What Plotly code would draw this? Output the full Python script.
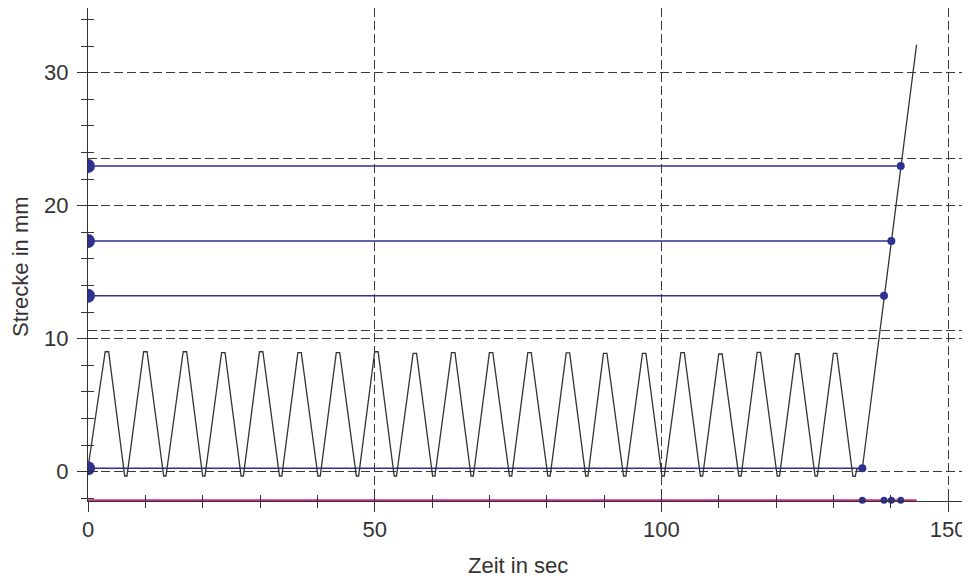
import plotly.graph_objects as go

# ---------------- data ----------------
# zig-zag travel curve (time in s, distance in mm)
start_t = 0.0
start_s = 0.3
peak_t = [3.3, 10.0, 16.9, 23.6, 30.2, 36.9, 43.6, 50.3, 57.0, 63.7,
          70.3, 77.0, 83.7, 90.2, 97.0, 103.7, 110.3, 117.0, 123.7, 130.3]
peak_s = [9.02, 9.02, 9.02, 8.95, 9.02, 8.95, 8.95, 9.02, 8.90, 8.95,
          8.95, 8.95, 8.93, 8.90, 8.90, 8.95, 8.85, 8.97, 8.87, 8.90]
valley_t = [6.6, 13.4, 20.2, 26.9, 33.6, 40.3, 47.0, 53.6, 60.3, 67.0,
            73.7, 80.4, 87.0, 93.6, 100.3, 107.0, 113.7, 120.4, 127.0, 133.6]
valley_s = [-0.32, -0.32, -0.32, -0.32, -0.32, -0.32, -0.32, -0.32, -0.32, -0.32,
            -0.32, -0.32, -0.32, -0.32, -0.32, -0.32, -0.32, -0.32, -0.32, -0.35]
ramp_t = [134.1, 135.05, 144.5]
ramp_s = [0.2, 0.26, 32.1]

# horizontal level lines (blue) and their end times
level_s = [22.98, 17.35, 13.23, 0.26]
level_end_t = [141.74, 140.11, 138.82, 135.05]

# base line (magenta) on the time axis
base_t = [0.0, 144.5]
base_s = [-2.15, -2.15]

x_ticks = [0, 50, 100, 150]
y_ticks = [0, 10, 20, 30]

# ---------------- styles ----------------
TOP_HALF = 0.3     # half width of the flat top of a peak (s)
BOT_HALF = 0.2     # half width of the flat bottom of a valley (s)
BLUE = "#2e3192"
INK = "#333333"
PINK = "#c8307f"
GRID = "#3a3a3a"
DASH = "9px,4px"

# build the zig-zag path from the read vertices
zx = [start_t]
zy = [start_s]
for pt, ps, vt, vs in zip(peak_t, peak_s, valley_t, valley_s):
    zx += [pt - TOP_HALF, pt + TOP_HALF, vt - BOT_HALF, vt + BOT_HALF]
    zy += [ps, ps, vs, vs]
zx += ramp_t
zy += ramp_s

fig = go.Figure()

fig.add_trace(go.Scatter(x=base_t, y=base_s, mode="lines",
                         line=dict(color=PINK, width=2), hoverinfo="skip"))

for s, te in zip(level_s, level_end_t):
    fig.add_trace(go.Scatter(x=[0, te], y=[s, s], mode="lines",
                             line=dict(color=BLUE, width=1.5), hoverinfo="skip"))

fig.add_trace(go.Scatter(x=zx, y=zy, mode="lines",
                         line=dict(color=INK, width=1.3), hoverinfo="skip"))

fig.add_trace(go.Scatter(x=[0] * len(level_s), y=level_s, mode="markers",
                         marker=dict(color=BLUE, size=14), cliponaxis=True,
                         hoverinfo="skip"))
fig.add_trace(go.Scatter(x=level_end_t, y=level_s, mode="markers",
                         marker=dict(color=BLUE, size=8), hoverinfo="skip"))
fig.add_trace(go.Scatter(x=level_end_t, y=[base_s[0]] * len(level_end_t), mode="markers",
                         marker=dict(color=BLUE, size=7), cliponaxis=False,
                         hoverinfo="skip"))

# empty traces so that the overlay axes are rendered
fig.add_trace(go.Scatter(x=[None], y=[None], xaxis="x2", yaxis="y3", showlegend=False))
fig.add_trace(go.Scatter(x=[None], y=[None], xaxis="x", yaxis="y4", showlegend=False))

XR = [0, 153.82]
YR = [-2.2, 34.86]

# page has an 8px body margin: plot area lands at x 88..970, y 8..501
PW, PH = 882, 493

fig.update_layout(
    width=962, height=571,
    margin=dict(l=80, r=0, t=0, b=78),
    plot_bgcolor="white", paper_bgcolor="white",
    showlegend=False,
    font=dict(family="Liberation Sans, Arial, sans-serif", size=22, color=INK),
    xaxis=dict(range=XR, tickmode="array", tickvals=x_ticks,
               ticks="outside", ticklen=10, tickwidth=1, tickcolor=INK,
               minor=dict(dtick=10, ticks="outside", ticklen=6, tickwidth=1,
                          tickcolor=INK, showgrid=False),
               showline=True, linecolor=INK, linewidth=1.3,
               showgrid=True, gridcolor=GRID, gridwidth=1, griddash=DASH,
               zeroline=False, ticklabelstandoff=-2,
               tickfont=dict(size=22, color=INK)),
    xaxis2=dict(range=XR, overlaying="x", anchor="y", side="bottom",
                tickmode="array", tickvals=x_ticks,
                ticks="inside", ticklen=10, tickwidth=1, tickcolor=INK,
                minor=dict(dtick=10, ticks="inside", ticklen=6, tickwidth=1,
                           tickcolor=INK, showgrid=False),
                showticklabels=False, showline=False, showgrid=False, zeroline=False),
    yaxis=dict(range=YR, tickmode="array", tickvals=y_ticks,
               ticks="outside", ticklen=10, tickwidth=1, tickcolor=INK,
               minor=dict(dtick=2, ticks="outside", ticklen=6, tickwidth=1,
                          tickcolor=INK, showgrid=False),
               showline=True, linecolor=INK, linewidth=1.3,
               showgrid=True, gridcolor=GRID, gridwidth=1, griddash=DASH,
               zeroline=False, ticklabelstandoff=4,
               tickfont=dict(size=22, color=INK)),
    yaxis3=dict(range=YR, overlaying="y", anchor="x", side="left",
                tickmode="array", tickvals=y_ticks,
                ticks="inside", ticklen=10, tickwidth=1, tickcolor=INK,
                minor=dict(dtick=2, ticks="inside", ticklen=6, tickwidth=1,
                           tickcolor=INK, showgrid=False),
                showticklabels=False, showline=False, showgrid=False, zeroline=False),
    yaxis4=dict(range=[0.05, 14.38], overlaying="y", anchor="x", side="right",
                dtick=5, tick0=0,
                ticks="inside", ticklen=3, tickwidth=1, tickcolor=INK,
                minor=dict(dtick=1, ticks="inside", ticklen=3, tickwidth=1,
                           tickcolor=INK, showgrid=False),
                showticklabels=False, showline=False,
                showgrid=True, gridcolor=GRID, gridwidth=1, griddash=DASH,
                zeroline=False),
    annotations=[
        dict(text="Zeit in sec", xref="paper", yref="paper",
             x=(518 - 88) / PW, y=(501 - 565) / PH,
             xanchor="center", yanchor="middle", showarrow=False,
             font=dict(size=22, color=INK)),
        dict(text="Strecke in mm", xref="paper", yref="paper",
             x=(20 - 88) / PW, y=(501 - 267) / PH, textangle=-90,
             xanchor="center", yanchor="middle", showarrow=False,
             font=dict(size=22, color=INK)),
    ],
)

fig.write_html("out.html")
